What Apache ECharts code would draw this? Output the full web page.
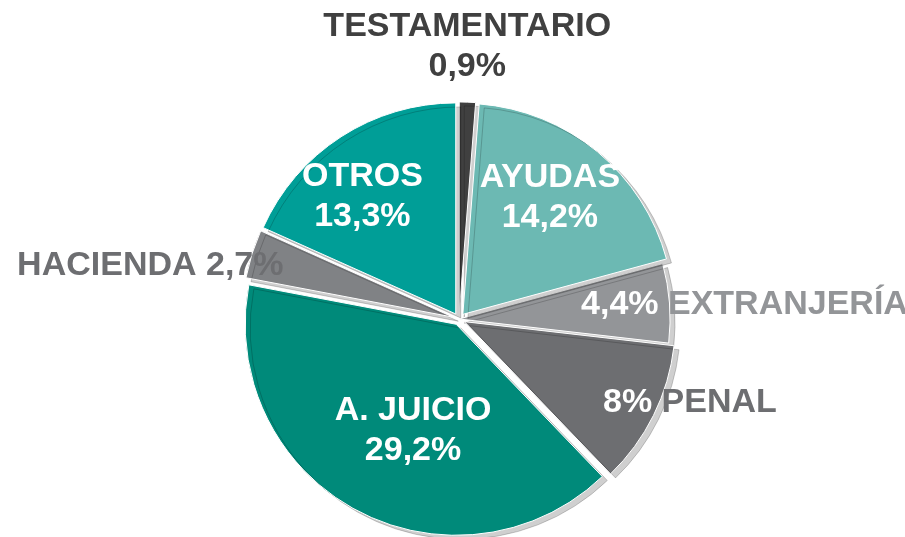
<!DOCTYPE html>
<html>
<head>
<meta charset="utf-8">
<script src="https://cdn.jsdelivr.net/npm/echarts@6/dist/echarts.min.js"></script>
<style>
  html, body { margin: 0; padding: 0; background: #ffffff; }
  #chart { width: 905px; height: 537px; }
</style>
</head>
<body>
<div id="chart"></div>
<script>
// data (shares are shown as printed, the pie normalises them)
var names = ["TESTAMENTARIO", "AYUDAS", "EXTRANJERÍA", "PENAL", "A. JUICIO", "HACIENDA", "OTROS"];
var values = [0.9, 14.2, 4.4, 8, 29.2, 2.7, 13.3];

// look
var colors = ["#404040", "#6cb9b3", "#939598", "#6d6e71", "#008a7a", "#808285", "#009e97"];
var textColors = ["#404040", "#ffffff", "#939598", "#6d6e71", "#ffffff", "#6d6e71", "#ffffff"];
var pulledOut = [true, true, false, true, true, true, true];
// how each label is written: stack = name over value, valueName = value then name, nameValue = name then value
var labelKind = ["stack", "stack", "valueName", "valueName", "stack", "nameValue", "stack"];
// label anchor: fraction of radius, turn from the slice's middle angle (deg), text alignment
var labelRad = [1.29, 0.72, 0.582, 0.79, 0.57, 0.87, 0.74];
var labelTurn = [-0.5, -2.9, -2.2, 3.9, -6, -0.4, -5.3];
var labelAlign = ["center", "center", "left", "left", "center", "right", "center"];

var FONT = "'Liberation Sans', Arial, sans-serif";
var FS = 34;
var CX = 0.5072, CY = 0.594, RAD = 0.786;

function pct(v) {
  return String(v).replace(".", ",") + "%";
}

var total = values.reduce(function (a, b) { return a + b; }, 0);
var midAngles = [];
var acc = 0;
values.forEach(function (v) {
  midAngles.push((acc + v / 2) / total * 360);
  acc += v;
});

var chart = echarts.init(document.getElementById("chart"));

var sliceData = names.map(function (n, i) {
  return { name: n, value: values[i], selected: pulledOut[i], itemStyle: { color: colors[i] } };
});

var labelData = names.map(function (n, i) {
  var fmt;
  if (labelKind[i] === "stack") {
    fmt = "{a|" + n + "}\n{a|" + pct(values[i]) + "}";
  } else if (labelKind[i] === "valueName") {
    fmt = "{w|" + pct(values[i]) + " }{a|" + n + "}";
  } else {
    fmt = "{a|" + n + " " + pct(values[i]) + "}";
  }
  return {
    name: n,
    value: values[i],
    label: {
      formatter: fmt,
      rich: {
        a: { color: textColors[i], fontSize: FS, fontWeight: "bold", fontFamily: FONT, lineHeight: 40 },
        w: { color: "#ffffff", fontSize: FS, fontWeight: "bold", fontFamily: FONT, lineHeight: 40 }
      }
    }
  };
});

var shadow = {
  borderColor: "#ffffff",
  borderWidth: 1,
  shadowColor: "rgba(0,0,0,0.19)",
  shadowBlur: 0,
  shadowOffsetX: 5,
  shadowOffsetY: 4
};

var option = {
  animation: false,
  backgroundColor: "#ffffff",
  series: [
    {
      type: "pie",
      z: 2,
      center: [CX * 100 + "%", CY * 100 + "%"],
      radius: ["0%", RAD * 100 + "%"],
      startAngle: 90,
      clockwise: true,
      selectedMode: "multiple",
      selectedOffset: 6,
      itemStyle: shadow,
      select: { itemStyle: shadow },
      label: { show: false },
      labelLine: { show: false },
      data: sliceData
    },
    {
      // same pie again, only to carry the labels
      type: "pie",
      z: 10,
      silent: true,
      center: [CX * 100 + "%", CY * 100 + "%"],
      radius: ["0%", RAD * 100 + "%"],
      startAngle: 90,
      clockwise: true,
      selectedMode: false,
      avoidLabelOverlap: false,
      itemStyle: { color: "rgba(0,0,0,0)" },
      emphasis: { disabled: true },
      label: {
        show: true,
        position: "inside",
        overflow: "none"
      },
      labelLine: { show: false },
      labelLayout: function (p) {
        var i = p.dataIndex;
        var w = chart.getWidth(), h = chart.getHeight();
        var cx = w * CX, cy = h * CY;
        var r = Math.min(w, h) / 2 * RAD * labelRad[i];
        var a = (midAngles[i] + labelTurn[i]) * Math.PI / 180;
        return {
          x: cx + r * Math.sin(a),
          y: cy - r * Math.cos(a),
          align: labelAlign[i],
          verticalAlign: "middle"
        };
      },
      data: labelData
    }
  ]
};

chart.setOption(option);
</script>
</body>
</html>
